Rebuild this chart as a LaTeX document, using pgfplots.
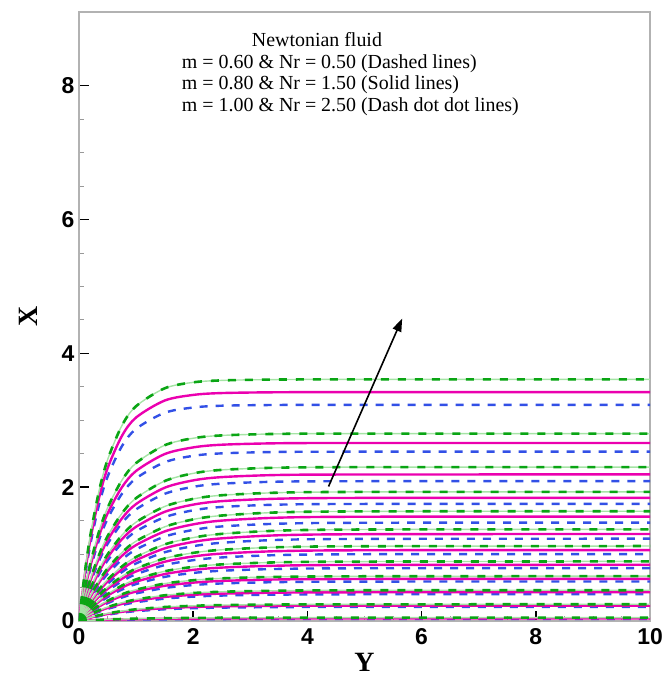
\documentclass[border=0pt]{standalone}
\usepackage{pgfplots}
\pgfplotsset{compat=1.18}
\usepackage{pgfplotstable}
\usepackage{fontspec}
\setmainfont{Liberation Serif}
\newfontfamily\sansb{Liberation Sans}
\usetikzlibrary{arrows.meta}
\definecolor{cmag}{RGB}{235,0,175}
\definecolor{cblue}{RGB}{50,80,230}
\definecolor{cgreen}{RGB}{10,165,20}
\definecolor{clgreen}{RGB}{165,228,165}

\pgfplotstableread{
Y c1 c2 c3 c4 c5 c6 c7 c8 c9 c10 c11 c12
0 0 0 0 0 0 0 0 0 0 0 0 0
0.1 0.713 0.473 0.340 0.261 0.200 0.155 0.127 0.101 0.076 0.052 0.028 0.006
0.2 1.285 0.866 0.630 0.486 0.375 0.292 0.239 0.190 0.143 0.098 0.053 0.011
0.35 1.939 1.335 0.986 0.768 0.600 0.470 0.384 0.305 0.230 0.158 0.086 0.017
0.5 2.408 1.690 1.267 0.995 0.784 0.618 0.505 0.402 0.302 0.208 0.113 0.023
0.75 2.917 2.101 1.607 1.279 1.021 0.813 0.665 0.528 0.398 0.273 0.148 0.030
1.0 3.210 2.360 1.836 1.477 1.193 0.957 0.783 0.622 0.468 0.321 0.175 0.035
1.5 3.477 2.626 2.091 1.711 1.407 1.144 0.935 0.743 0.559 0.384 0.209 0.042
2.0 3.566 2.731 2.206 1.824 1.518 1.246 1.018 0.809 0.609 0.418 0.227 0.046
2.5 3.595 2.773 2.258 1.879 1.576 1.302 1.064 0.846 0.637 0.437 0.238 0.048
3.5 3.608 2.796 2.291 1.918 1.623 1.350 1.103 0.877 0.660 0.453 0.246 0.049
5.0 3.610 2.800 2.299 1.929 1.638 1.367 1.117 0.888 0.668 0.459 0.249 0.050
10 3.61 2.80 2.30 1.93 1.64 1.37 1.12 0.89 0.67 0.46 0.25 0.05
}\greenT

\pgfplotstableread{
Y c1 c2 c3 c4 c5 c6 c7 c8 c9 c10 c11 c12
0 0 0 0 0 0 0 0 0 0 0 0 0
0.1 0.676 0.449 0.324 0.248 0.190 0.147 0.120 0.095 0.071 0.049 0.026 0.005
0.2 1.218 0.823 0.600 0.463 0.357 0.277 0.226 0.179 0.134 0.092 0.049 0.009
0.35 1.837 1.268 0.939 0.732 0.570 0.446 0.364 0.288 0.216 0.148 0.079 0.014
0.5 2.282 1.605 1.206 0.949 0.746 0.587 0.478 0.379 0.284 0.194 0.104 0.018
0.75 2.763 1.996 1.530 1.220 0.972 0.771 0.629 0.499 0.374 0.255 0.137 0.024
1.0 3.041 2.242 1.748 1.408 1.135 0.908 0.741 0.587 0.440 0.301 0.161 0.028
1.5 3.294 2.494 1.991 1.631 1.338 1.085 0.885 0.701 0.526 0.359 0.192 0.033
2.0 3.378 2.594 2.101 1.739 1.444 1.182 0.964 0.764 0.573 0.391 0.209 0.036
2.5 3.406 2.634 2.150 1.791 1.500 1.235 1.007 0.798 0.599 0.409 0.219 0.038
3.5 3.418 2.656 2.182 1.828 1.544 1.281 1.044 0.827 0.621 0.424 0.227 0.039
5.0 3.420 2.660 2.189 1.839 1.558 1.297 1.057 0.838 0.628 0.429 0.229 0.040
10 3.42 2.66 2.19 1.84 1.56 1.30 1.06 0.84 0.63 0.43 0.23 0.04
}\magT

\pgfplotstableread{
Y c1 c2 c3 c4 c5 c6 c7 c8 c9 c10 c11 c12
0 0 0 0 0 0 0 0 0 0 0 0 0
0.1 0.638 0.427 0.309 0.236 0.179 0.139 0.113 0.089 0.067 0.045 0.024 0.003
0.2 1.150 0.783 0.573 0.441 0.337 0.263 0.213 0.169 0.126 0.085 0.045 0.006
0.35 1.735 1.206 0.896 0.697 0.537 0.422 0.343 0.271 0.202 0.137 0.072 0.010
0.5 2.155 1.527 1.151 0.903 0.703 0.555 0.451 0.356 0.266 0.181 0.095 0.014
0.75 2.610 1.898 1.461 1.160 0.916 0.730 0.593 0.469 0.350 0.237 0.125 0.018
1.0 2.872 2.132 1.668 1.340 1.069 0.860 0.699 0.552 0.412 0.280 0.147 0.021
1.5 3.111 2.372 1.900 1.551 1.261 1.027 0.835 0.659 0.493 0.334 0.175 0.025
2.0 3.190 2.468 2.005 1.654 1.361 1.118 0.909 0.718 0.537 0.364 0.191 0.027
2.5 3.217 2.505 2.052 1.704 1.413 1.169 0.950 0.751 0.561 0.380 0.200 0.029
3.5 3.228 2.526 2.082 1.739 1.454 1.212 0.985 0.778 0.581 0.394 0.207 0.030
5.0 3.230 2.530 2.089 1.749 1.468 1.227 0.998 0.788 0.589 0.399 0.210 0.030
10 3.23 2.53 2.09 1.75 1.47 1.23 1.00 0.79 0.59 0.40 0.21 0.03
}\blueT

\tikzset{
  bl/.style={draw=cblue, line width=2.4bp, dash pattern=on 8bp off 8bp, smooth, mark=none},
  mg/.style={draw=cmag, line width=2.4bp, smooth, mark=none},
  gr/.style={draw=clgreen, line width=1.4bp, smooth, mark=none,
     postaction={draw=cgreen, line width=2.6bp, dash pattern=on 8bp off 9bp}},
  lg/.style={anchor=base west, inner sep=0pt, font=\fontsize{20}{20}\selectfont},
}

\begin{document}
\begin{tikzpicture}
\useasboundingbox (-79bp,-62bp) rectangle (588bp,621bp);
\begin{axis}[
  scale only axis, width=571bp, height=609bp,
  xmin=0, xmax=10, ymin=0, ymax=9.1,
  xtick={0,2,...,10}, ytick={0,2,...,8},
  minor tick num=3,
  tick align=inside,
  xtick pos=left, ytick pos=left,
  major tick length=10bp, minor tick length=5bp,
  major tick style={black, line width=1.6bp},
  minor tick style={gray!80, line width=0.8bp},
  axis line style={gray!60, line width=1.5bp},
  ticklabel style={font=\sansb\bfseries\fontsize{23}{23}\selectfont},
  xticklabel style={yshift=-4bp},
  yticklabel style={xshift=-1bp},
  /pgf/number format/assume math mode=true,
  xlabel={Y}, ylabel={X},
  label style={font=\bfseries\fontsize{28}{28}\selectfont},
  xlabel style={at={(axis description cs:0.5,0)}, anchor=north, yshift=-32bp, inner sep=0pt},
  ylabel style={at={(axis description cs:-0.089,0.5)}, anchor=center, inner sep=0pt},
]
\pgfplotsinvokeforeach{1,...,12}{\addplot[bl] table[x=Y,y=c#1]{\blueT};}
\pgfplotsinvokeforeach{1,...,12}{\addplot[mg] table[x=Y,y=c#1]{\magT};}
\pgfplotsinvokeforeach{1,...,12}{\addplot[gr] table[x=Y,y=c#1]{\greenT};}

\draw[black, line width=1.6bp, -{Triangle[length=13bp,width=9bp]}] (axis cs:4.37,2.01) -- (axis cs:5.66,4.52);

\node[lg] at (rel axis cs:0.3025,0.944) {Newtonian fluid};
\node[lg] at (rel axis cs:0.180,0.908) {m = 0.60 \& Nr = 0.50 (Dashed lines)};
\node[lg] at (rel axis cs:0.180,0.872) {m = 0.80 \& Nr = 1.50 (Solid lines)};
\node[lg] at (rel axis cs:0.180,0.836) {m = 1.00 \& Nr = 2.50 (Dash dot dot lines)};
\end{axis}
\end{tikzpicture}
\end{document}
